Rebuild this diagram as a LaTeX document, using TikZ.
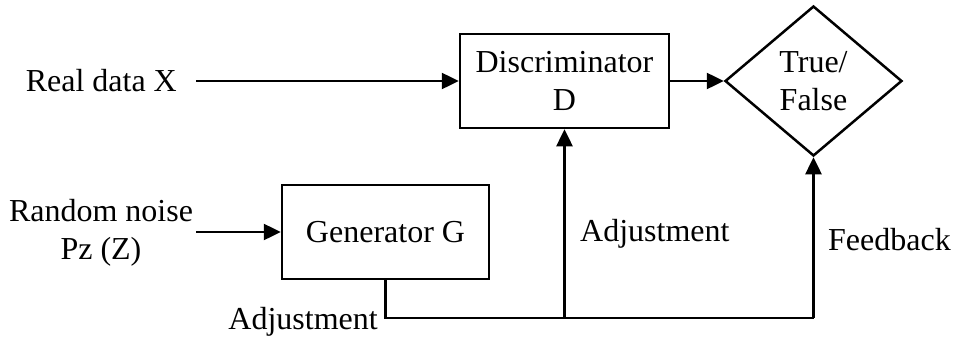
\documentclass[tikz,border=0pt]{standalone}
\usepackage{fontspec}
\setmainfont{Liberation Serif}
\newfontfamily\tnr{Liberation Serif}
\usetikzlibrary{arrows.meta,shapes.geometric}
\begin{document}
\begin{tikzpicture}[x=1pt,y=-1pt,
  every node/.style={font=\tnr\fontsize{32}{38}\selectfont, inner sep=0pt},
  blk/.style={draw, line width=2.5pt, rectangle},
  conn/.style={line width=2.5pt},
  arr/.style={line width=2.5pt, -{Triangle[length=17pt,width=16pt]}},
  lbl/.style={align=center}]
\useasboundingbox (0,0) rectangle (954,340);
% blocks
\node[blk, minimum width=209pt, minimum height=94pt, align=center] (D) at (564.5,81) {Discriminator\\D};
\node[blk, minimum width=207pt, minimum height=94pt] (G) at (385.5,232) {Generator G};
\node[draw, diamond, line width=2.5pt, minimum width=177pt, minimum height=150pt, align=center] (TF) at (813.5,81) {True/\\False};
% labels
\node[lbl, anchor=east] (RX) at (177,81) {Real data X};
\node[lbl] (RN) at (101,233) {Random noise\\Pz (Z)};
\node[anchor=east] (A1) at (378,322) {Adjustment};
\node[anchor=west] (A2) at (580,234) {Adjustment};
\node[anchor=west] (FB) at (828,240) {Feedback};
% coordinates
\coordinate (rxs) at (196,81);
\coordinate (rns) at (196,232);
\coordinate (c1) at (G.south |- 0,318);
\coordinate (c2) at (D.south |- 0,318);
\coordinate (c3) at (TF.south |- 0,318);
% connectors
\draw[arr] (rxs) -- (D.west);
\draw[arr] (rns) -- (G.west);
\draw[arr] (D.east) -- (TF.west);
\draw[conn] (G.south) -- (c1) -- (c3);
\draw[arr] (c3) -- (TF.south);
\draw[arr] (c2) -- (D.south);
\end{tikzpicture}
\end{document}
